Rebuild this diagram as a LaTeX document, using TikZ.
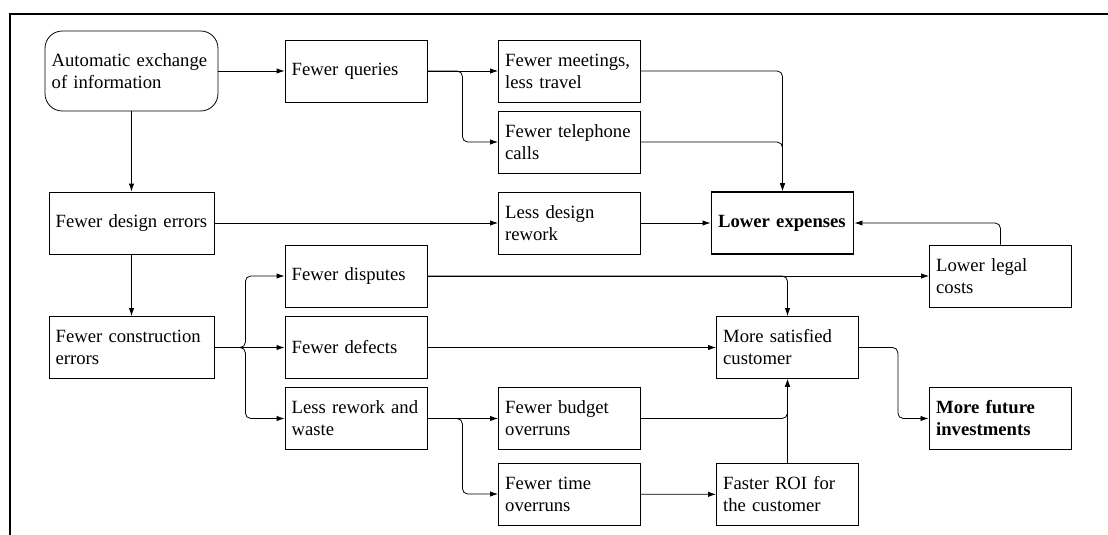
\documentclass[tikz,border=0pt]{standalone}
\usepackage{fontspec}
\setmainfont{Liberation Serif}
\usetikzlibrary{arrows.meta}

\begin{document}
\begin{tikzpicture}[x=0.75pt,y=-0.75pt,
	box/.style={draw,line width=0.6pt,inner xsep=5pt,text width=96.5pt,
		minimum height=46.5pt,align=left,font=\fontsize{14}{16.5}\selectfont},
	widebox/.style={box,text width=113.75pt},
	goal/.style={box,line width=1.4pt,font=\fontsize{14}{16.5}\selectfont\bfseries},
	link/.style={line width=0.6pt,-{Latex[length=6pt,width=4pt]},rounded corners=4pt}]
	\useasboundingbox (0,0) rectangle (1108,535);
	\draw [line width=1.5pt] (10,535) -- (10,14) -- (1108,14);
	\node [box,text width=119.75pt,minimum height=60pt,rounded corners=13pt] (auto) at (131.5,71) {Automatic exchange\\of information};
	\node [box] (queries) at (356,71) {Fewer queries};
	\node [box] (meet) at (569.5,71) {Fewer meetings,\\less travel};
	\node [box] (phone) at (569.5,142) {Fewer telephone\\calls};
	\node [widebox] (design) at (131.5,223) {Fewer design errors};
	\node [box] (lessrw) at (569.5,223) {Less design\\rework};
	\node [goal] (lowexp) at (782.5,223) {Lower expenses};
	\node [box] (legal) at (1000.5,276) {Lower legal\\costs};
	\node [widebox] (constr) at (131.5,347.5) {Fewer construction\\errors};
	\node [box] (disp) at (356,276) {Fewer disputes};
	\node [box] (defects) at (356,347.5) {Fewer defects};
	\node [box] (rework) at (356,418.5) {Less rework and\\waste};
	\node [box] (budget) at (569.5,418.5) {Fewer budget\\overruns};
	\node [box] (time) at (569.5,494) {Fewer time\\overruns};
	\node [box] (sat) at (787.5,347.5) {More satisfied\\customer};
	\node [box] (roi) at (787.5,494.5) {Faster ROI for\\the customer};
	\node [goal] (fut) at (1000.5,418.5) {More future\\investments};
	% top part
	\draw [link] (auto) -- (queries);
	\draw [link] (auto) -- (design);
	\draw [link] (queries) -- (meet);
	\draw [link] (queries.east) -- ++(35,0) |- (phone.west);
	\draw [link] (meet.east) -| (lowexp.north);
	\draw [link] (phone.east) -| (lowexp.north);
	\draw [link] (design) -- (lessrw);
	\draw [link] (lessrw) -- (lowexp);
	\draw [link] (legal.north) |- (lowexp.east);
	% bottom part
	\draw [link] (design) -- (constr);
	\draw [link] (constr.east) -- ++(31,0) |- (disp.west);
	\draw [link] (constr) -- (defects);
	\draw [link] (constr.east) -- ++(31,0) |- (rework.west);
	\draw [link] (disp) -- (legal);
	\draw [link] (disp.east) -| (sat.north);
	\draw [link] (defects) -- (sat);
	\draw [link] (rework) -- (budget);
	\draw [link] (rework.east) -- ++(35,0) |- (time.west);
	\draw [link] (budget.east) -| (sat.south);
	\draw [link] (time) -- (roi);
	\draw [link] (roi) -- (sat);
	\draw [link] (sat.east) -- ++(39,0) |- (fut.west);
\end{tikzpicture}
\end{document}
